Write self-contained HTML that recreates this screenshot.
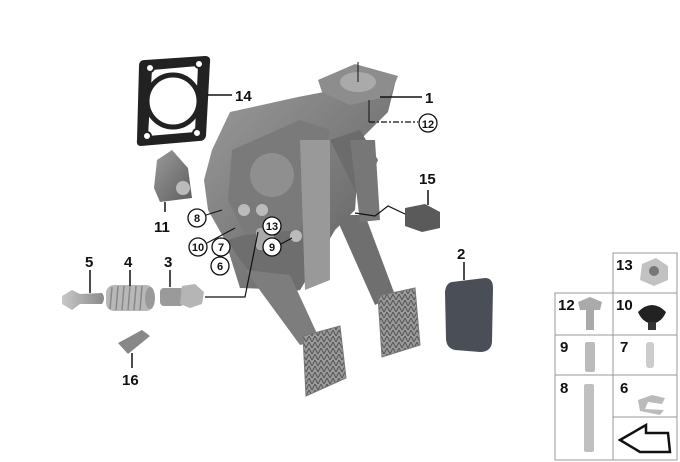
<!DOCTYPE html>
<html><head><meta charset="utf-8"><style>
html,body{margin:0;padding:0;background:#fff;}
svg{display:block}
text{font-family:"Liberation Sans",Arial,sans-serif;font-weight:bold;fill:#111}
</style></head><body>
<svg width="680" height="462" viewBox="0 0 680 462" xmlns="http://www.w3.org/2000/svg">
<defs>
<linearGradient id="g1" x1="0" y1="0" x2="1" y2="1"><stop offset="0" stop-color="#9a9a9a"/><stop offset="1" stop-color="#5e5e5e"/></linearGradient>
<linearGradient id="g2" x1="0" y1="0" x2="1" y2="0"><stop offset="0" stop-color="#c8c8c8"/><stop offset="1" stop-color="#8a8a8a"/></linearGradient>
<pattern id="tread" width="6" height="6" patternUnits="userSpaceOnUse"><rect width="6" height="6" fill="#9a9a9a"/><path d="M0 6L3 0L6 6" stroke="#555" stroke-width="1" fill="none"/></pattern>
</defs>

<!-- gasket 14 -->
<path d="M145 60 L205 56 Q211 56 210 62 L206 136 Q205 141 199 141 L141 146 Q136 146 137 140 L139 66 Q139 60 145 60 Z" fill="#222"/>
<path d="M152 70 L198 66 L195 132 L148 136 Z" fill="#fff"/>
<circle cx="173" cy="101" r="26" fill="#fff" stroke="#222" stroke-width="5"/>
<circle cx="150" cy="68" r="4" fill="#fff" stroke="#222" stroke-width="2"/>
<circle cx="199" cy="64" r="4" fill="#fff" stroke="#222" stroke-width="2"/>
<circle cx="147" cy="136" r="4" fill="#fff" stroke="#222" stroke-width="2"/>
<circle cx="197" cy="133" r="4" fill="#fff" stroke="#222" stroke-width="2"/>
<line x1="207" y1="95" x2="232" y2="95" stroke="#111" stroke-width="1.5"/>
<text x="235" y="101" font-size="15">14</text>

<!-- bracket 11 -->
<path d="M157 160 L172 150 L188 168 L192 198 L160 202 L154 188 Z" fill="url(#g1)"/>
<circle cx="183" cy="188" r="7" fill="#bbb"/>
<line x1="165" y1="202" x2="165" y2="212" stroke="#111" stroke-width="1.5"/>
<text x="154" y="232" font-size="15">11</text>

<!-- main housing -->
<path d="M212 150 L230 112 L298 97 L345 88 L395 84 L388 112 L360 140 L355 210 L335 230 L300 290 L240 288 L225 240 L208 210 L204 180 Z" fill="url(#g1)"/>
<path d="M228 240 Q260 300 300 290 L330 240 Q300 225 260 230 Z" fill="#6e6e6e"/>
<path d="M318 80 L355 64 L398 76 L390 96 L350 105 L322 92 Z" fill="#8d8d8d"/>
<ellipse cx="358" cy="82" rx="18" ry="10" fill="#aaa"/>
<line x1="358" y1="62" x2="358" y2="82" stroke="#111" stroke-width="1"/>
<path d="M232 150 L300 120 L330 130 L300 230 L245 235 L228 200 Z" fill="#7a7a7a"/>
<circle cx="272" cy="175" r="22" fill="#8f8f8f"/>
<path d="M300 140 L330 140 L330 280 L305 290 Z" fill="#999"/>
<path d="M330 140 L360 130 L378 160 L360 200 Z" fill="#6c6c6c"/>
<!-- pedal arms -->
<path d="M245 270 L290 275 L320 340 L300 345 Z" fill="#7d7d7d"/>
<path d="M335 215 L365 215 L395 295 L375 305 Z" fill="#6f6f6f"/>
<path d="M350 140 L375 140 L380 220 L360 222 Z" fill="#777"/>
<!-- pads -->
<path d="M303 336 L340 326 L346 378 L306 396 Z" fill="url(#tread)" stroke="#777"/>
<path d="M378 296 L415 288 L420 345 L382 357 Z" fill="url(#tread)" stroke="#777"/>
<rect x="256" y="228" width="18" height="22" rx="4" fill="#aaa"/>
<circle cx="244" cy="210" r="6" fill="#bbb"/>
<circle cx="262" cy="210" r="6" fill="#bbb"/>
<circle cx="296" cy="236" r="6" fill="#bbb"/>

<!-- part 2 -->
<path d="M452 282 L485 278 Q493 278 493 288 L492 342 Q491 352 480 352 L455 350 Q446 348 446 338 L445 292 Q446 283 452 282 Z" fill="#4a4e56"/>
<line x1="464" y1="262" x2="464" y2="280" stroke="#111" stroke-width="1.5"/>
<text x="457" y="259" font-size="15">2</text>

<!-- 15 connector -->
<path d="M405 208 L425 204 L440 212 L440 228 L422 232 L405 226 Z" fill="#5a5a5a"/>
<polyline points="355,213 375,216 388,206 405,214" fill="none" stroke="#111" stroke-width="1.2"/>
<line x1="428" y1="190" x2="428" y2="205" stroke="#111" stroke-width="1.5"/>
<text x="419" y="184" font-size="15">15</text>

<!-- 1 and 12 -->
<line x1="380" y1="97" x2="422" y2="97" stroke="#111" stroke-width="1.5"/>
<text x="425" y="103" font-size="15">1</text>
<line x1="369" y1="122" x2="418" y2="122" stroke="#111" stroke-width="1.2" stroke-dasharray="6,2,2,2"/>
<line x1="369" y1="100" x2="369" y2="122" stroke="#111" stroke-width="1"/>
<circle cx="428" cy="123" r="9" fill="#fff" stroke="#111" stroke-width="1.3"/>
<text x="428" y="128" font-size="11" text-anchor="middle">12</text>

<!-- circled labels -->
<g font-size="11" text-anchor="middle">
<circle cx="197" cy="218" r="9" fill="#fff" stroke="#111" stroke-width="1.3"/><text x="197" y="222">8</text>
<circle cx="272" cy="226" r="9" fill="#fff" stroke="#111" stroke-width="1.3"/><text x="272" y="230">13</text>
<circle cx="198" cy="247" r="9" fill="#fff" stroke="#111" stroke-width="1.3"/><text x="198" y="251">10</text>
<circle cx="221" cy="247" r="9" fill="#fff" stroke="#111" stroke-width="1.3"/><text x="221" y="251">7</text>
<circle cx="220" cy="266" r="9" fill="#fff" stroke="#111" stroke-width="1.3"/><text x="220" y="270">6</text>
<circle cx="272" cy="247" r="9" fill="#fff" stroke="#111" stroke-width="1.3"/><text x="272" y="251">9</text>
</g>
<line x1="206" y1="215" x2="222" y2="210" stroke="#111"/>
<line x1="207" y1="243" x2="235" y2="228" stroke="#111"/>
<line x1="281" y1="244" x2="292" y2="238" stroke="#111"/>
<polyline points="205,297 245,297 258,232" fill="none" stroke="#111" stroke-width="1.2"/>

<!-- 5,4,3 -->
<path d="M62 296 L72 290 L80 294 L102 293 Q106 298 102 304 L80 304 L72 310 L62 304 Z" fill="url(#g2)"/>
<rect x="106" y="285" width="48" height="26" rx="8" fill="#b8b8b8"/>
<g stroke="#888" stroke-width="1.5"><line x1="112" y1="287" x2="110" y2="309"/><line x1="118" y1="286" x2="116" y2="310"/><line x1="124" y1="286" x2="122" y2="310"/><line x1="130" y1="286" x2="128" y2="310"/><line x1="136" y1="286" x2="134" y2="310"/><line x1="142" y1="286" x2="140" y2="310"/></g>
<ellipse cx="150" cy="298" rx="5" ry="11" fill="#999"/>
<rect x="160" y="288" width="24" height="18" rx="4" fill="#9a9a9a"/>
<path d="M182 286 L195 284 L204 292 L202 304 L190 308 L180 304 Z" fill="#b5b5b5"/>
<line x1="90" y1="270" x2="90" y2="293" stroke="#111" stroke-width="1.5"/>
<line x1="130" y1="270" x2="130" y2="286" stroke="#111" stroke-width="1.5"/>
<line x1="170" y1="270" x2="170" y2="287" stroke="#111" stroke-width="1.5"/>
<text x="85" y="267" font-size="15">5</text>
<text x="124" y="267" font-size="15">4</text>
<text x="164" y="267" font-size="15">3</text>
<!-- 16 -->
<path d="M118 343 L142 330 L150 336 L128 354 Z" fill="#888"/>
<line x1="132" y1="353" x2="132" y2="368" stroke="#111" stroke-width="1.5"/>
<text x="122" y="385" font-size="15">16</text>

<!-- right grid -->
<g fill="none" stroke="#999" stroke-width="1">
<rect x="613" y="253" width="64" height="207"/>
<rect x="555" y="293" width="122" height="167"/>
<line x1="555" y1="335" x2="677" y2="335"/>
<line x1="555" y1="375" x2="677" y2="375"/>
<line x1="613" y1="417" x2="677" y2="417"/>
</g>
<g font-size="15">
<text x="616" y="270">13</text>
<text x="558" y="310">12</text>
<text x="616" y="310">10</text>
<text x="560" y="352">9</text>
<text x="620" y="352">7</text>
<text x="560" y="393">8</text>
<text x="620" y="393">6</text>
</g>
<path d="M642 264 L656 258 L668 266 L668 280 L654 286 L640 280 Z" fill="#c2c2c2"/>
<circle cx="654" cy="271" r="5" fill="#777"/>
<path d="M578 302 L590 297 L602 302 L600 310 L580 310 Z" fill="#aaa"/><rect x="586" y="310" width="8" height="20" fill="#aaa"/>
<path d="M638 312 Q652 298 666 312 Q662 322 652 324 Q642 322 638 312 Z" fill="#222"/><rect x="648" y="322" width="8" height="8" fill="#333"/>
<rect x="585" y="342" width="10" height="30" rx="2" fill="#bbb"/>
<rect x="646" y="342" width="8" height="26" rx="3" fill="#ccc"/>
<rect x="584" y="384" width="10" height="68" rx="2" fill="#c0c0c0"/>
<path d="M638 400 L652 395 L665 398 L662 404 L648 402 L645 409 L664 410 L660 415 L640 411 Z" fill="#bbb"/>
<path d="M620 440 L646 425 L646 433 L668 433 L670 452 L640 452 Z" fill="none" stroke="#111" stroke-width="2.5"/>
</svg>
</body></html>
